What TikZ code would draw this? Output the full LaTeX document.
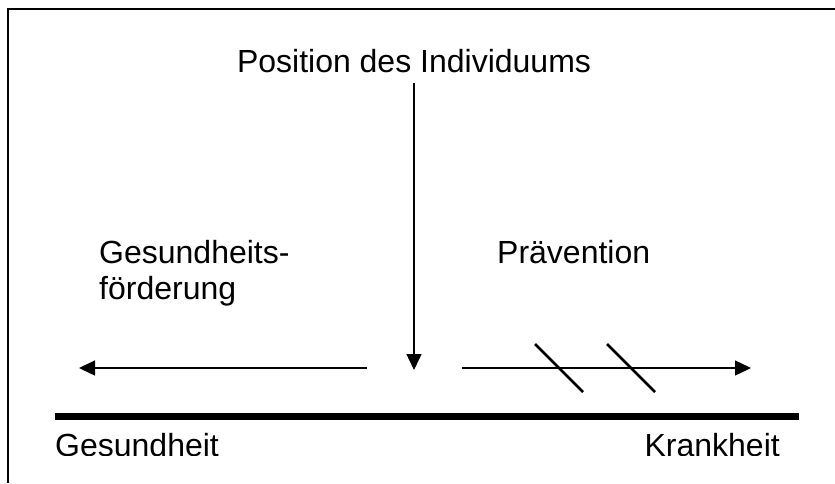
\documentclass[tikz,border=0pt]{standalone}
\usepackage{fontspec}
\setmainfont{Liberation Sans}
\usetikzlibrary{arrows.meta}
\begin{document}
\begin{tikzpicture}[x=1pt,y=-1pt,
  label/.style={inner sep=0pt,anchor=base west,font=\fontsize{32}{36}\selectfont},
  thin/.style={line width=1.4pt},
  arr/.style={thin,-{Triangle[length=16pt,width=15pt]}},
  slash/.style={line width=2.5pt}]
\useasboundingbox (0,0) rectangle (835,483);
% frame (top and left edges)
\draw[line width=1.5pt] (8,483) -- (8,9) -- (835,9);
% title and arrow down to the position
\node[label,anchor=base] (pos) at (414,72) {Position des Individuums};
\coordinate (p1) at (414,83);
\coordinate (p2) at (414,370);
\draw[arr] (p1) -- (p2);
% side labels
\node[label] (gf) at (99,263) {Gesundheits-};
\node[label] (gf2) at (99,299) {förderung};
\node[label] (pr) at (497,263) {Prävention};
% horizontal arrows
\coordinate (l1) at (367,368);
\coordinate (l2) at (79,368);
\draw[arr] (l1) -- (l2);
\coordinate (r1) at (462,368);
\coordinate (r2) at (751,368);
\draw[arr] (r1) -- (r2);
% crossing marks
\coordinate (s1a) at (535,344); \coordinate (s1b) at (583,392);
\coordinate (s2a) at (607,344); \coordinate (s2b) at (655,392);
\draw[slash] (s1a) -- (s1b);
\draw[slash] (s2a) -- (s2b);
% scale line
\coordinate (a) at (55,416.5);
\coordinate (b) at (799,416.5);
\draw[line width=7pt] (a) -- (b);
\begin{scope}
\clip (0,0) rectangle (835,455.5);
\node[label] (ges) at (55,456) {Gesundheit};
\node[label,anchor=base east] (kr) at (780,456) {Krankheit};
\end{scope}
\end{tikzpicture}
\end{document}
